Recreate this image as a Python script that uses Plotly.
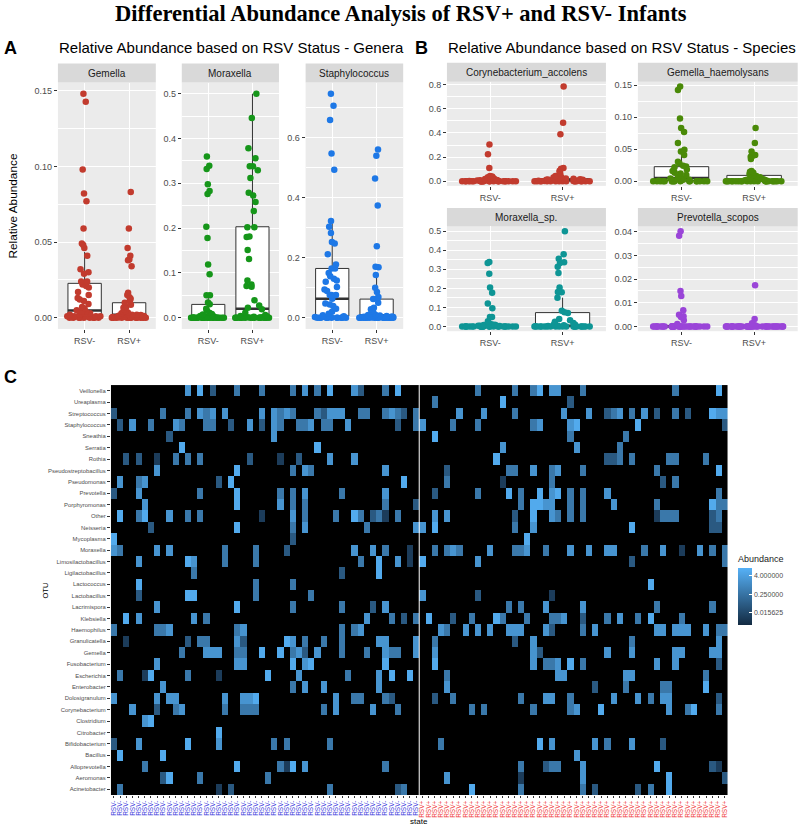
import math
import plotly.graph_objects as go

W, H = 800, 827

# ---------------- DATA ----------------
GROUPS = ["RSV-", "RSV+"]

# Panel A – genera (relative abundance per infant)
GEMELLA_NEG = [0.148, 0.1426, 0.098, 0.082, 0.077, 0.059, 0.049, 0.048, 0.046, 0.041,
               0.032, 0.030, 0.029, 0.024, 0.024, 0.022, 0.021, 0.020, 0.017, 0.015,
               0.013, 0.012, 0.011, 0.009, 0.007, 0.006, 0.005, 0.004, 0.004, 0.003,
               0.003, 0.002, 0.002, 0.002, 0.001, 0.001, 0.001, 0.001, 0.001, 0.0005,
               0.0005, 0, 0, 0, 0, 0, 0, 0, 0, 0]
GEMELLA_POS = [0.083, 0.059, 0.046, 0.041, 0.0385, 0.038, 0.034, 0.0165, 0.015, 0.0135,
               0.0125, 0.011, 0.0099, 0.0085, 0.007, 0.0066, 0.0055, 0.0044, 0.004, 0.0035,
               0.003, 0.0025, 0.002, 0.002, 0.002, 0.0018, 0.0015, 0.0012, 0.001, 0.001,
               0.0008, 0.0007, 0.0006, 0.0005, 0.0004, 0.0003, 0.0002, 0.0001,
               0, 0, 0, 0, 0, 0, 0, 0, 0, 0, 0, 0]
MORAXELLA_NEG = [0.36, 0.339, 0.332, 0.298, 0.283, 0.276, 0.203, 0.178, 0.119, 0.097,
                 0.05, 0.05, 0.034, 0.03, 0.02, 0.016, 0.011, 0.008, 0.007, 0.005,
                 0.004, 0.003, 0.002, 0.002, 0.001, 0.001, 0.0005] + [0] * 23
MORAXELLA_POS = [0.5, 0.446, 0.378, 0.356, 0.338, 0.338, 0.329, 0.312, 0.279, 0.273,
                 0.258, 0.238, 0.202, 0.202, 0.181, 0.18, 0.151, 0.131, 0.083, 0.074,
                 0.071, 0.069, 0.039, 0.027, 0.022, 0.019, 0.011, 0.006, 0.004, 0.003,
                 0.002, 0.001, 0.001, 0.0005] + [0] * 16
STAPH_NEG = [0.746, 0.706, 0.658, 0.547, 0.493, 0.322, 0.303, 0.282, 0.252, 0.247,
             0.211, 0.177, 0.164, 0.164, 0.149, 0.138, 0.130, 0.124, 0.120, 0.102,
             0.094, 0.089, 0.076, 0.076, 0.076, 0.063, 0.047, 0.044, 0.039, 0.03,
             0.02, 0.013, 0.008, 0.006, 0.005, 0.003, 0.002, 0.001, 0.0005] + [0] * 11
STAPH_POS = [0.56, 0.539, 0.464, 0.374, 0.238, 0.17, 0.168, 0.142, 0.0996, 0.086,
             0.069, 0.064, 0.062, 0.05, 0.033, 0.028, 0.022, 0.017, 0.013, 0.01,
             0.009, 0.008, 0.007, 0.006, 0.005, 0.004, 0.003, 0.002, 0.002, 0.001,
             0.001, 0.0005] + [0] * 18

# Panel B – species
CORYNE_NEG = [0.304, 0.223, 0.109, 0.042, 0.038, 0.033, 0.03, 0.025, 0.02, 0.017,
              0.014, 0.012, 0.01, 0.008, 0.006, 0.005, 0.004, 0.003, 0.002, 0.002,
              0.001, 0.001] + [0] * 23
CORYNE_POS = [0.786, 0.485, 0.39, 0.109, 0.103, 0.086, 0.075, 0.061, 0.042, 0.035,
              0.03, 0.025, 0.022, 0.02, 0.018, 0.016, 0.014, 0.012, 0.011, 0.01,
              0.009, 0.008, 0.006, 0.005, 0.004, 0.003, 0.002, 0.001] + [0] * 17
GEMHAEM_NEG = [0.148, 0.1426, 0.098, 0.083, 0.077, 0.0595, 0.049, 0.0465, 0.041, 0.0305,
               0.028, 0.024, 0.023, 0.0216, 0.018, 0.016, 0.013, 0.012, 0.0095, 0.007,
               0.005, 0.004, 0.003, 0.002, 0.002, 0.001, 0.001, 0.0005] + [0] * 17
GEMHAEM_POS = [0.083, 0.0595, 0.0465, 0.041, 0.0395, 0.038, 0.0347, 0.016, 0.0147, 0.013,
               0.011, 0.0095, 0.008, 0.006, 0.004, 0.003, 0.002, 0.002, 0.0015, 0.001,
               0.0008, 0.0005, 0.0003] + [0] * 22
MORSP_NEG = [0.339, 0.333, 0.277, 0.204, 0.177, 0.12, 0.096, 0.05, 0.05, 0.027,
             0.018, 0.012, 0.009, 0.007, 0.005, 0.004, 0.003, 0.002, 0.002, 0.001,
             0.001] + [0] * 24
MORSP_POS = [0.5, 0.379, 0.355, 0.337, 0.333, 0.314, 0.28, 0.204, 0.181, 0.179,
             0.151, 0.083, 0.074, 0.071, 0.039, 0.032, 0.025, 0.018, 0.012, 0.009,
             0.006, 0.004, 0.003, 0.002, 0.001] + [0] * 20
PREV_NEG = [0.0403, 0.0384, 0.015, 0.0129, 0.0069, 0.0049, 0.0043, 0.004, 0.0026, 0.001] + [0] * 35
PREV_POS = [0.0174, 0.0031, 0.0014, 0.0005] + [0] * 41

# Box statistics: (q1, median, q3, lower whisker, upper whisker)
BOX_GEMELLA = [(0.0011, 0.0048, 0.0227, 0, 0.0435), (0.0007, 0.002, 0.0099, 0, 0.016)]
BOX_MORAXELLA = [(0, 0.001, 0.0297, 0, 0.05), (0, 0.020, 0.203, 0, 0.5)]
BOX_STAPH = [(0.0055, 0.063, 0.164, 0, 0.321), (0.002, 0.0078, 0.062, 0, 0.138)]
BOX_CORYNE = [(0, 0.002, 0.006, 0, 0.014), (0.001, 0.008, 0.02, 0, 0.045)]
BOX_GEMHAEM = [(0.001, 0.005, 0.0226, 0, 0.048), (0.0005, 0.002, 0.009, 0, 0.016)]
BOX_MORSP = [(0, 0.003, 0.008, 0, 0.018), (0, 0.003, 0.0727, 0, 0.151)]
BOX_PREV = [(0, 0, 0.0004, 0, 0.001), (0, 0, 0.0002, 0, 0.0005)]

# Panel C – heatmap: OTUs (top to bottom), samples (50 RSV-, 50 RSV+)
OTUS = ["Veillonella", "Ureaplasma", "Streptococcus", "Staphylococcus", "Sneathia",
        "Serratia", "Rothia", "Pseudostreptobacillus", "Pseudomonas", "Prevotella",
        "Porphyromonas", "Other", "Neisseria", "Mycoplasma", "Moraxella",
        "Limosilactobacillus", "Ligilactobacillus", "Lactococcus", "Lactobacillus",
        "Lacrimispora", "Klebsiella", "Haemophilus", "Granulicatella", "Gemella",
        "Fusobacterium", "Escherichia", "Enterobacter", "Dolosigranulum",
        "Corynebacterium", "Clostridium", "Citrobacter", "Bifidobacterium", "Bacillus",
        "Alloprevotella", "Aeromonas", "Acinetobacter"]
SAMPLE_STATE = ["RSV-"] * 50 + ["RSV+"] * 50
# colour level read for each non-black cell {sample index: level}
LEVEL_ABUNDANCE = {1: 0.008, 2: 0.05, 3: 0.35, 4: 2.0, 5: 8.0}
HEAT = {
    "Veillonella": {12: 4, 14: 5, 16: 2, 20: 3, 24: 3, 29: 3, 31: 4, 33: 3, 35: 5, 39: 4, 40: 2, 44: 3, 46: 5, 59: 3, 65: 3, 68: 3, 69: 5, 71: 4, 72: 4, 76: 3, 91: 3, 98: 5},
    "Ureaplasma": {52: 3, 63: 5, 74: 2},
    "Streptococcus": {0: 2, 8: 3, 12: 3, 14: 4, 15: 3, 16: 4, 18: 4, 24: 4, 26: 4, 27: 3, 28: 4, 29: 3, 33: 3, 34: 2, 35: 4, 36: 4, 37: 4, 40: 3, 41: 3, 44: 3, 45: 4, 46: 3, 47: 2, 49: 3, 56: 4, 60: 4, 65: 3, 73: 4, 77: 4, 80: 2, 81: 3, 82: 4, 84: 3, 86: 4, 88: 2, 91: 3, 93: 2, 97: 5, 98: 4, 99: 4},
    "Staphylococcus": {1: 2, 3: 4, 6: 3, 10: 4, 11: 3, 15: 3, 16: 3, 19: 2, 22: 4, 24: 2, 26: 4, 27: 3, 30: 3, 31: 3, 32: 4, 34: 3, 35: 3, 38: 4, 46: 2, 49: 3, 50: 4, 55: 3, 59: 3, 68: 3, 69: 4, 74: 4, 75: 5, 85: 5, 99: 2},
    "Sneathia": {9: 2, 26: 4, 52: 5, 74: 3, 83: 3},
    "Serratia": {11: 5, 33: 5, 63: 4, 75: 4, 82: 3},
    "Rothia": {2: 2, 4: 2, 7: 1, 10: 3, 12: 3, 14: 3, 22: 2, 27: 1, 30: 2, 35: 4, 39: 4, 62: 5, 80: 2, 81: 2, 82: 3, 84: 3, 90: 3, 91: 3, 96: 3},
    "Pseudostreptobacillus": {7: 4, 20: 5, 29: 3, 31: 4, 32: 3, 44: 4, 54: 2, 64: 3, 65: 3, 68: 4, 71: 3, 72: 4, 76: 3, 88: 3, 98: 5},
    "Pseudomonas": {1: 4, 4: 3, 5: 4, 17: 2, 19: 5, 47: 5, 54: 3, 63: 1, 71: 3, 89: 2, 91: 3},
    "Prevotella": {0: 2, 4: 4, 14: 3, 20: 5, 27: 3, 29: 3, 31: 4, 37: 3, 44: 4, 52: 2, 59: 3, 64: 5, 66: 3, 69: 5, 71: 4, 72: 5, 74: 3, 76: 3, 80: 4, 98: 3},
    "Porphyromonas": {5: 4, 20: 5, 27: 4, 29: 3, 31: 3, 44: 3, 49: 2, 66: 3, 68: 5, 69: 5, 70: 4, 71: 4, 74: 3, 76: 3, 81: 4, 88: 3, 97: 5, 98: 3, 99: 3},
    "Other": {1: 5, 4: 3, 5: 5, 9: 4, 12: 3, 14: 3, 24: 1, 29: 4, 31: 3, 36: 3, 39: 5, 40: 3, 42: 2, 43: 3, 44: 1, 46: 3, 52: 4, 54: 4, 65: 2, 68: 5, 71: 4, 72: 3, 74: 3, 76: 3, 88: 1, 89: 3, 90: 3, 91: 3, 97: 2, 98: 3},
    "Neisseria": {6: 2, 20: 5, 29: 3, 31: 4, 41: 3, 49: 4, 50: 4, 52: 5, 65: 3, 68: 4, 84: 5, 97: 2, 98: 2},
    "Mycoplasma": {0: 5, 29: 2, 67: 5},
    "Moraxella": {0: 4, 1: 3, 7: 4, 9: 4, 18: 3, 23: 3, 28: 2, 39: 4, 42: 4, 44: 3, 48: 1, 52: 3, 54: 3, 55: 4, 56: 3, 61: 4, 65: 3, 66: 3, 67: 4, 70: 3, 74: 4, 77: 4, 80: 4, 81: 4, 86: 3, 89: 4, 92: 1, 95: 4, 97: 3, 99: 3},
    "Limosilactobacillus": {4: 4, 12: 5, 13: 4, 18: 3, 23: 3, 40: 3, 43: 5, 46: 4, 48: 1, 50: 5, 59: 4, 84: 2, 99: 3},
    "Ligilactobacillus": {13: 3, 37: 2, 43: 5},
    "Lactococcus": {4: 5, 23: 3, 29: 3, 87: 5},
    "Lactobacillus": {4: 2, 12: 5, 13: 5, 23: 3, 32: 3, 50: 4, 59: 2, 71: 1},
    "Lacrimispora": {7: 4, 20: 5, 29: 3, 37: 3, 42: 2, 44: 4, 64: 3, 66: 3, 70: 4, 76: 4, 88: 3, 97: 3},
    "Klebsiella": {2: 5, 4: 4, 13: 4, 15: 3, 41: 4, 45: 3, 47: 2, 49: 3, 51: 5, 55: 2, 58: 3, 62: 5, 63: 3, 67: 3, 71: 3, 72: 3, 73: 4, 76: 2, 80: 3, 82: 4, 85: 3, 87: 5, 92: 3},
    "Haemophilus": {0: 3, 7: 3, 8: 3, 9: 4, 20: 3, 21: 4, 37: 3, 39: 3, 40: 4, 53: 4, 54: 3, 57: 4, 59: 4, 61: 4, 64: 4, 65: 4, 66: 4, 70: 4, 71: 2, 76: 3, 78: 4, 88: 4, 89: 4, 91: 4, 92: 4, 93: 4, 96: 4, 98: 3, 99: 3},
    "Granulicatella": {2: 1, 12: 2, 14: 3, 15: 3, 20: 4, 21: 2, 28: 5, 29: 4, 31: 3, 34: 3, 37: 3, 43: 4, 44: 4, 49: 4, 52: 3, 65: 2, 68: 4, 84: 3, 98: 4},
    "Gemella": {11: 3, 15: 4, 16: 4, 17: 4, 20: 3, 21: 3, 24: 5, 27: 5, 29: 3, 30: 4, 31: 2, 33: 4, 37: 3, 41: 3, 44: 4, 45: 3, 46: 3, 49: 4, 52: 4, 68: 4, 69: 2, 80: 4, 84: 4, 91: 4, 92: 4, 97: 4, 98: 4},
    "Fusobacterium": {7: 4, 20: 4, 21: 4, 29: 5, 31: 4, 32: 5, 44: 5, 52: 5, 68: 4, 70: 3, 71: 3, 72: 4, 74: 5, 76: 3, 88: 4, 91: 4, 98: 2},
    "Escherichia": {1: 3, 5: 1, 6: 5, 12: 3, 17: 1, 25: 5, 30: 4, 38: 3, 43: 4, 45: 5, 48: 5, 54: 3, 72: 4, 73: 4, 83: 4, 84: 4, 96: 3},
    "Enterobacter": {8: 4, 29: 3, 31: 4, 34: 4, 43: 4, 54: 4, 78: 2, 83: 3, 89: 3, 90: 3, 96: 5},
    "Dolosigranulum": {0: 4, 7: 4, 9: 4, 10: 4, 18: 4, 21: 4, 22: 4, 23: 5, 36: 4, 39: 3, 40: 3, 44: 3, 45: 2, 52: 2, 55: 3, 66: 3, 70: 4, 71: 4, 74: 3, 81: 4, 85: 4, 87: 3, 89: 4, 90: 4, 98: 2},
    "Corynebacterium": {3: 4, 7: 2, 10: 3, 11: 4, 18: 3, 21: 3, 22: 3, 23: 3, 34: 3, 36: 4, 42: 4, 46: 3, 58: 3, 60: 3, 68: 3, 74: 3, 75: 4, 79: 5, 90: 4, 93: 3, 94: 5, 98: 3},
    "Clostridium": {5: 4, 6: 5},
    "Citrobacter": {17: 5},
    "Bifidobacterium": {0: 2, 4: 4, 12: 5, 17: 4, 26: 3, 28: 3, 35: 3, 53: 3, 69: 5, 71: 4, 78: 4, 80: 3, 84: 4, 89: 2},
    "Bacillus": {1: 5, 8: 5, 75: 4},
    "Alloprevotella": {5: 3, 20: 5, 27: 3, 28: 1, 29: 5, 31: 4, 44: 3, 66: 3, 70: 2, 71: 3, 72: 3, 76: 4, 88: 5, 97: 2, 98: 1},
    "Aeromonas": {8: 2, 9: 5, 14: 3, 25: 3, 54: 4, 66: 1, 76: 4, 90: 5, 99: 2},
    "Acinetobacter": {1: 3, 17: 1, 19: 2, 35: 3, 46: 2, 47: 3, 58: 5, 66: 3, 76: 3, 78: 2, 85: 2, 87: 3, 90: 5},
}
COLORBAR_LIMITS = (0.0027, 12.8)
COLORBAR_TICKS = [4.0, 0.25, 0.015625]

# ---------------- STYLE / LAYOUT ----------------
SANS = "Liberation Sans, Arial, sans-serif"
PANEL_BG = "#EBEBEB"
STRIP_BG = "#D9D9D9"
TICK_COL = "#4D4D4D"


def fx(px):
    return px / W


def fy(py):
    return 1 - py / H


fig = go.Figure()
layout = dict(shapes=[], annotations=[])

FACETS = [
    # name, neg, pos, box, colour, x px, y px, strip y px, dtick, fmt
    ("Gemella", GEMELLA_NEG, GEMELLA_POS, BOX_GEMELLA, "#C23B2E", (57, 155), (80.7, 327.7), 61.7, 0.05, ".2f"),
    ("Moraxella", MORAXELLA_NEG, MORAXELLA_POS, BOX_MORAXELLA, "#16961A", (181, 278.3), (80.7, 327.7), 61.7, 0.1, ".1f"),
    ("Staphylococcus", STAPH_NEG, STAPH_POS, BOX_STAPH, "#1E78E6", (305, 402.7), (80.7, 327.7), 61.7, 0.2, ".1f"),
    ("Corynebacterium_accolens", CORYNE_NEG, CORYNE_POS, BOX_CORYNE, "#C23B2E", (446.5, 605.7), (80, 184.3), 61, 0.2, ".1f"),
    ("Gemella_haemolysans", GEMHAEM_NEG, GEMHAEM_POS, BOX_GEMHAEM, "#4A8A08", (637.7, 797.7), (80, 184.3), 61, 0.05, ".2f"),
    ("Moraxella_sp.", MORSP_NEG, MORSP_POS, BOX_MORSP, "#0E9595", (446.5, 605.7), (225, 330), 206.5, 0.1, ".1f"),
    ("Prevotella_scopos", PREV_NEG, PREV_POS, BOX_PREV, "#9A45D8", (637.7, 797.7), (225, 330), 206.5, 0.01, ".2f"),
]

for i, (name, neg, pos, box, col, xpx, ypx, strip_top, dtick, fmt) in enumerate(FACETS):
    k = i + 1
    xa, ya = f"x{k}", f"y{k}"
    # box (stats)
    fig.add_trace(go.Box(
        x=GROUPS, q1=[b[0] for b in box], median=[b[1] for b in box], q3=[b[2] for b in box],
        lowerfence=[b[3] for b in box], upperfence=[b[4] for b in box],
        xaxis=xa, yaxis=ya, fillcolor="white", line=dict(color="#333333", width=1),
        width=0.75, whiskerwidth=0, boxpoints=False, showlegend=False, hoverinfo="skip"))
    # thick median bar (ggplot style)
    med = [b[1] for b in box]
    fig.add_trace(go.Box(
        x=GROUPS, q1=med, median=med, q3=med, lowerfence=med, upperfence=med,
        xaxis=xa, yaxis=ya, fillcolor="rgba(0,0,0,0)", line=dict(color="#333333", width=2.6),
        width=0.75, whiskerwidth=0, boxpoints=False, showlegend=False, hoverinfo="skip"))
    # jittered points (invisible box, plotly jitter)
    fig.add_trace(go.Box(
        x=[GROUPS[0]] * len(neg) + [GROUPS[1]] * len(pos), y=neg + pos,
        xaxis=xa, yaxis=ya, boxpoints="all", jitter=1, pointpos=0, width=0.8,
        fillcolor="rgba(0,0,0,0)", line=dict(color="rgba(0,0,0,0)", width=0),
        marker=dict(color=col, size=6.5, line=dict(width=0)),
        showlegend=False, hoverinfo="y"))
    m = max(neg + pos + [b[4] for b in box])
    layout[f"xaxis{k}"] = dict(
        domain=[fx(xpx[0]), fx(xpx[1])], anchor=ya, type="category",
        categoryorder="array", categoryarray=GROUPS, range=[-0.6, 1.6],
        showgrid=True, gridcolor="white", gridwidth=1.1, zeroline=False,
        ticks="outside", ticklen=3, tickcolor="#333333", tickwidth=1,
        tickfont=dict(family=SANS, size=9, color=TICK_COL), showline=False, fixedrange=True)
    layout[f"yaxis{k}"] = dict(
        domain=[fy(ypx[1]), fy(ypx[0])], anchor=xa, range=[-0.05 * m, 1.05 * m],
        tick0=0, dtick=dtick, tickformat=fmt, showgrid=True, gridcolor="white",
        gridwidth=1.1, zeroline=False, ticks="outside", ticklen=3, tickcolor="#333333",
        tickwidth=1, tickfont=dict(family=SANS, size=9, color=TICK_COL),
        minor=dict(dtick=dtick / 2, tick0=0, showgrid=True, gridcolor="white", gridwidth=0.5, ticks=""),
        showline=False, fixedrange=True)
    # strip
    layout["shapes"].append(dict(type="rect", xref="paper", yref="paper",
                                 x0=fx(xpx[0]), x1=fx(xpx[1]), y0=fy(ypx[0]), y1=fy(strip_top),
                                 fillcolor=STRIP_BG, line=dict(width=0), layer="below"))
    layout["annotations"].append(dict(text=name, xref="paper", yref="paper",
                                      x=fx((xpx[0] + xpx[1]) / 2), y=fy((ypx[0] + strip_top) / 2),
                                      showarrow=False, xanchor="center", yanchor="middle",
                                      font=dict(family=SANS, size=10, color="#1A1A1A")))

# ---------------- HEATMAP ----------------
hk = len(FACETS) + 1
cols = list(range(len(SAMPLE_STATE)))
zlo, zhi = math.log10(COLORBAR_LIMITS[0]), math.log10(COLORBAR_LIMITS[1])
EPS = 0.003  # tiny black segment of the colour scale for zero abundance
zfloor = zlo - EPS / (1 - EPS) * (zhi - zlo)
zlog = []
for otu in OTUS:
    row = []
    for c in cols:
        lvl = HEAT[otu].get(c)
        row.append(math.log10(LEVEL_ABUNDANCE[lvl]) if lvl else zfloor)
    zlog.append(row)

fig.add_trace(go.Heatmap(
    x=cols, y=OTUS, z=zlog, xaxis=f"x{hk}", yaxis=f"y{hk}",
    colorscale=[[0, "#000000"], [EPS, "#000000"], [EPS, "#132B43"], [1, "#56B1F7"]],
    zmin=zfloor, zmax=zhi,
    colorbar=dict(
        x=fx(738), xanchor="left", y=fy(552), yanchor="top",
        len=72 / H, lenmode="fraction", thickness=14, outlinewidth=0,
        xpad=0, ypad=0,
        title=dict(text="Abundance", side="top", font=dict(family=SANS, size=9, color="#1A1A1A")),
        tickvals=[math.log10(t) for t in COLORBAR_TICKS],
        ticktext=[f"{t:.6f}" for t in COLORBAR_TICKS],
        ticks="inside", ticklen=3, tickcolor="white",
        tickfont=dict(family=SANS, size=7, color=TICK_COL))))

STATE_COLOR = {"RSV-": "#3C3CDC", "RSV+": "#F03C3C"}
layout[f"xaxis{hk}"] = dict(
    domain=[fx(110), fx(727.5)], anchor=f"y{hk}", range=[-0.5, len(cols) - 0.5],
    tickmode="array", tickvals=cols,
    ticktext=[f'<span style="color:{STATE_COLOR[s]}">{s}</span>' for s in SAMPLE_STATE],
    tickangle=-90, ticks="outside", ticklen=2, tickcolor="#333333",
    tickfont=dict(family=SANS, size=6.5), showgrid=False, zeroline=False, fixedrange=True)
layout[f"yaxis{hk}"] = dict(
    domain=[fy(795), fy(384)], anchor=f"x{hk}", type="category",
    categoryorder="array", categoryarray=OTUS[::-1],
    ticks="outside", ticklen=3, tickcolor="#333333",
    tickfont=dict(family=SANS, size=5.9, color=TICK_COL), showgrid=False,
    zeroline=False, fixedrange=True)
# divider between RSV- and RSV+ samples
layout["shapes"].append(dict(type="line", xref=f"x{hk}", yref=f"y{hk} domain",
                             x0=SAMPLE_STATE.count("RSV-") - 0.5, x1=SAMPLE_STATE.count("RSV-") - 0.5,
                             y0=0, y1=1, line=dict(color="white", width=1)))

# ---------------- TEXT ----------------
def ann(text, x, y, size, bold=False, family=SANS, angle=0, xanchor="center", color="#000000"):
    layout["annotations"].append(dict(
        text=f"<b>{text}</b>" if bold else text, xref="paper", yref="paper",
        x=fx(x), y=fy(y), showarrow=False, xanchor=xanchor, yanchor="middle",
        textangle=angle, font=dict(family=family, size=size, color=color)))


ann("Differential Abundance Analysis of RSV+ and RSV- Infants", 400, 12, 22.5, bold=True,
    family="Liberation Serif, Times New Roman, serif")
ann("A", 1, 46, 18, bold=True, xanchor="left")
ann("Relative Abundance based on RSV Status - Genera", 56, 46, 15, xanchor="left")
ann("B", 413, 46, 18, bold=True, xanchor="left")
ann("Relative Abundance based on RSV Status - Species", 446, 46, 15, xanchor="left")
ann("C", 1, 376, 18, bold=True, xanchor="left")
ann("Relative Abundance", 12, 204, 11.8, angle=-90)
ann("OTU", 45, 590, 7.5, angle=-90)
ann("state", 419, 821, 8)

layout.update(
    width=W, height=H, margin=dict(l=0, r=0, t=0, b=0),
    paper_bgcolor="white", plot_bgcolor=PANEL_BG, boxmode="overlay",
    showlegend=False, font=dict(family=SANS))
fig.update_layout(**layout)
fig.write_html("out.html", config={"displayModeBar": False},
               post_script="document.body.style.margin='0';")
